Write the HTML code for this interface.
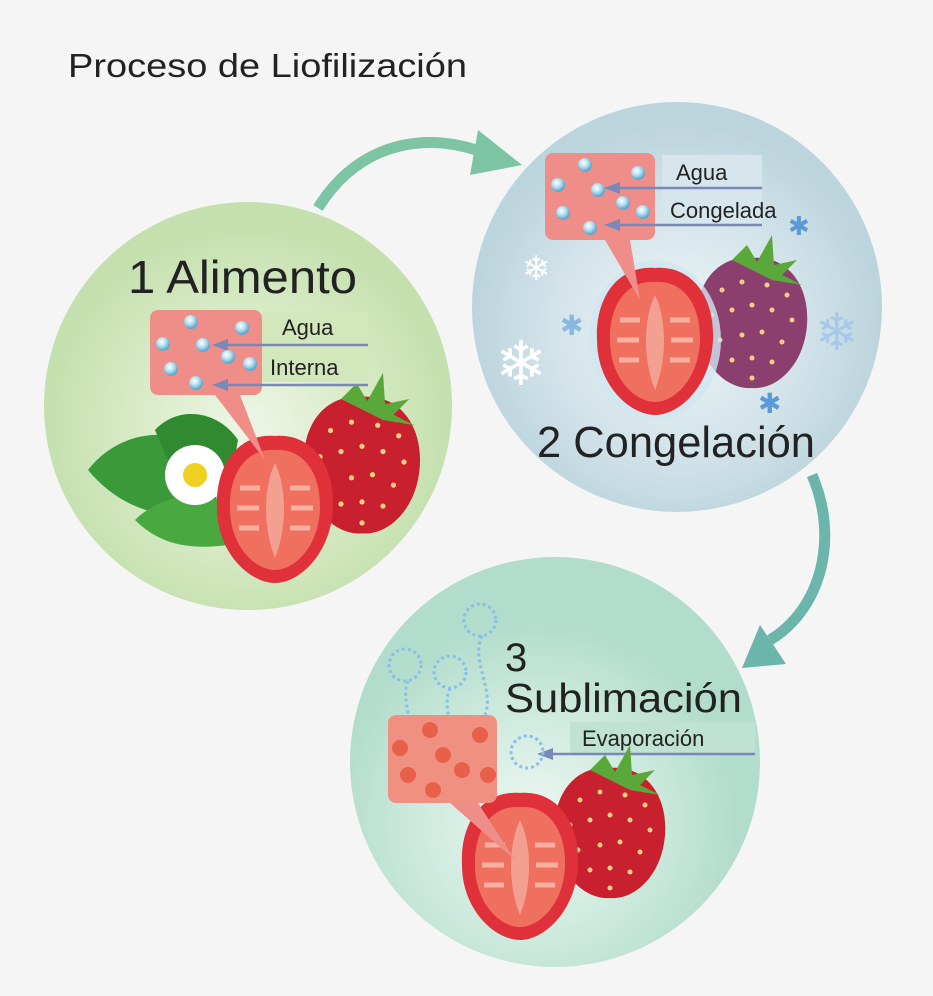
<!DOCTYPE html>
<html><head><meta charset="utf-8"><style>
html,body{margin:0;padding:0;background:#f5f5f5;}
svg{display:block;}
text{font-family:"Liberation Sans",sans-serif;fill:#222;}
</style></head><body>
<svg width="933" height="996" viewBox="0 0 933 996" xmlns="http://www.w3.org/2000/svg">
<defs>
<radialGradient id="g1" cx="50%" cy="55%" r="50%"><stop offset="0" stop-color="#eef6e6"/><stop offset="0.6" stop-color="#d6eac4"/><stop offset="1" stop-color="#c4e0ae"/></radialGradient>
<radialGradient id="g2" cx="50%" cy="55%" r="50%"><stop offset="0" stop-color="#eef5f7"/><stop offset="0.6" stop-color="#d3e4ea"/><stop offset="1" stop-color="#bcd4dc"/></radialGradient>
<radialGradient id="g3" cx="45%" cy="65%" r="50%"><stop offset="0" stop-color="#eef8f3"/><stop offset="0.6" stop-color="#cbe9dc"/><stop offset="1" stop-color="#b2dccb"/></radialGradient>
<radialGradient id="drop" cx="40%" cy="35%" r="60%"><stop offset="0" stop-color="#ffffff"/><stop offset="0.5" stop-color="#b8e0f0"/><stop offset="1" stop-color="#5aa8d0"/></radialGradient>
<g id="cut">
 <path d="M0,-72 C35,-75 60,-45 58,0 C56,45 25,75 0,75 C-25,75 -58,45 -58,0 C-60,-45 -35,-75 0,-72Z" fill="#e0303a"/>
 <path d="M0,-58 C28,-60 46,-35 45,0 C44,38 20,62 0,62 C-20,62 -45,38 -45,0 C-46,-35 -28,-60 0,-58Z" fill="#f07060"/>
 <path d="M0,-45 C12,-20 12,20 0,50 C-12,20 -12,-20 0,-45Z" fill="#f4a090"/>
 <path d="M-35,-20 h20 M-38,0 h22 M-36,20 h20 M15,-20 h20 M16,0 h22 M15,20 h20" stroke="#f8b0a0" stroke-width="5"/>
</g>
<g id="whole">
 <path d="M0,-62 C35,-65 58,-35 55,5 C52,45 25,70 0,68 C-25,70 -52,45 -55,5 C-58,-35 -35,-65 0,-62Z"/>
 <g fill="#f6d080">
  <circle cx="-30" cy="-30" r="2.5"/><circle cx="-10" cy="-38" r="2.5"/><circle cx="15" cy="-35" r="2.5"/><circle cx="35" cy="-25" r="2.5"/>
  <circle cx="-40" cy="-5" r="2.5"/><circle cx="-20" cy="-10" r="2.5"/><circle cx="0" cy="-15" r="2.5"/><circle cx="20" cy="-10" r="2.5"/><circle cx="40" cy="0" r="2.5"/>
  <circle cx="-32" cy="20" r="2.5"/><circle cx="-10" cy="15" r="2.5"/><circle cx="10" cy="12" r="2.5"/><circle cx="30" cy="22" r="2.5"/>
  <circle cx="-20" cy="40" r="2.5"/><circle cx="0" cy="38" r="2.5"/><circle cx="20" cy="42" r="2.5"/><circle cx="0" cy="58" r="2.5"/>
 </g>
 <path d="M-20,-60 L-5,-75 L5,-58 L20,-85 L22,-55 L45,-60 L30,-45 L50,-35 L20,-40 Z" fill="#5aa83a"/>
</g>
</defs>
<rect width="933" height="996" fill="#f5f5f5"/>
<text x="68" y="77" font-size="33" fill="#333" textLength="399" lengthAdjust="spacingAndGlyphs">Proceso de Liofilización</text>

<!-- arrows -->
<path d="M318,208 C360,140 430,130 490,155" fill="none" stroke="#7cc4a4" stroke-width="11"/>
<polygon points="478,130 522,165 470,175" fill="#7cc4a4"/>
<path d="M812,475 C840,540 820,610 770,640" fill="none" stroke="#6cb5aa" stroke-width="11"/>
<polygon points="760,625 786,664 742,668" fill="#6cb5aa"/>

<!-- circles -->
<circle cx="248" cy="406" r="204" fill="url(#g1)"/>
<circle cx="677" cy="307" r="205" fill="url(#g2)"/>
<circle cx="555" cy="762" r="205" fill="url(#g3)"/>

<!-- circle 1 -->
<text x="128" y="293" font-size="46" textLength="229" lengthAdjust="spacingAndGlyphs">1 Alimento</text>
<g fill="#3a9a3a">
 <path d="M88,470 C115,435 160,425 205,445 L218,505 C180,525 125,515 88,470Z"/>
 <path d="M155,430 C178,405 218,410 238,440 L232,472 L172,470Z" fill="#2f8a30"/>
 <path d="M135,520 C160,495 205,488 225,505 L228,545 C190,550 160,545 135,520Z" fill="#4aa840"/>
</g>
<circle cx="195" cy="475" r="30" fill="#fff"/><circle cx="195" cy="475" r="12" fill="#f0d020"/>
<use href="#whole" x="362" y="462" fill="#c8202e" transform="translate(362 462) scale(1.05) translate(-362 -462)"/>
<use href="#cut" x="275" y="508"/>
<polygon points="215,395 240,395 265,460" fill="#ef8e88"/>
<rect x="150" y="310" width="112" height="85" rx="8" fill="#ef8e88"/>
<rect x="262" y="312" width="106" height="70" fill="#d2e8bc"/>
<text x="282" y="335" font-size="22">Agua</text>
<text x="270" y="375" font-size="22">Interna</text>
<g stroke="#7a88b8" stroke-width="2.5"><line x1="220" y1="345" x2="368" y2="345"/><line x1="220" y1="385" x2="368" y2="385"/></g>
<g fill="#7a88b8"><polygon points="212,345 228,339 228,351"/><polygon points="212,385 228,379 228,391"/></g>
<g fill="url(#drop)"><circle cx="191" cy="322" r="7"/><circle cx="242" cy="328" r="7"/><circle cx="163" cy="344" r="7"/><circle cx="203" cy="345" r="7"/><circle cx="228" cy="357" r="7"/><circle cx="250" cy="364" r="7"/><circle cx="171" cy="369" r="7"/><circle cx="196" cy="383" r="7"/></g>

<!-- circle 2 -->
<text x="537" y="457" font-size="44" textLength="278" lengthAdjust="spacingAndGlyphs">2 Congelación</text>
<use href="#whole" x="752" y="320" fill="#8a3f6e"/>
<ellipse cx="655" cy="340" rx="66" ry="80" fill="#cfe6f0" opacity="0.8"/>
<use href="#cut" x="655" y="340"/>
<polygon points="605,240 630,240 640,300" fill="#ef8e88"/>
<rect x="545" y="153" width="110" height="87" rx="8" fill="#ef8e88"/>
<rect x="662" y="155" width="100" height="70" fill="#d6e6ec"/>
<text x="676" y="180" font-size="22">Agua</text>
<text x="670" y="218" font-size="22">Congelada</text>
<g stroke="#7a88b8" stroke-width="2.5"><line x1="612" y1="188" x2="762" y2="188"/><line x1="612" y1="225" x2="762" y2="225"/></g>
<g fill="#7a88b8"><polygon points="604,188 620,182 620,194"/><polygon points="604,225 620,219 620,231"/></g>
<g fill="url(#drop)"><circle cx="585" cy="165" r="7"/><circle cx="638" cy="173" r="7"/><circle cx="558" cy="185" r="7"/><circle cx="598" cy="190" r="7"/><circle cx="623" cy="203" r="7"/><circle cx="643" cy="212" r="7"/><circle cx="563" cy="213" r="7"/><circle cx="590" cy="228" r="7"/></g>
<g font-family="DejaVu Sans" font-size="46">
<text x="495" y="385" font-size="62" style="fill:#fff">❄</text>
<text x="815" y="350" style="fill:#a8c8ea" font-size="52">❄</text>
<text x="522" y="280" style="fill:#fff" font-size="34">❄</text>
<text x="560" y="335" style="fill:#8ab8e0" font-size="28">✱</text>
<text x="758" y="413" style="fill:#5a9ad8" font-size="28">✱</text>
<text x="788" y="235" style="fill:#5a9ad8" font-size="26">✱</text>
</g>

<!-- circle 3 -->
<text x="505" y="671" font-size="40">3</text>
<text x="505" y="712" font-size="41" textLength="237" lengthAdjust="spacingAndGlyphs">Sublimación</text>
<rect x="570" y="722" width="185" height="32" fill="#bfe2d2"/>
<text x="582" y="746" font-size="22">Evaporación</text>
<line x1="545" y1="754" x2="755" y2="754" stroke="#7a88b8" stroke-width="2.5"/>
<polygon points="537,754 553,748 553,760" fill="#7a88b8"/>
<g fill="none" stroke="#88bfe8" stroke-width="3" stroke-dasharray="3 3">
<circle cx="480" cy="620" r="16"/><circle cx="405" cy="665" r="16"/><circle cx="450" cy="672" r="16"/><circle cx="527" cy="752" r="16"/>
<path d="M482,636 C470,660 495,690 485,715"/><path d="M450,688 C440,710 460,740 455,770"/><path d="M408,681 C400,700 415,720 410,760"/>
</g>
<use href="#whole" x="610" y="830" fill="#c8202e"/>
<use href="#cut" x="520" y="865"/>
<polygon points="450,803 478,803 515,860" fill="#ef8e88"/>
<rect x="388" y="715" width="109" height="88" rx="8" fill="#f09080"/>
<g fill="#e8604a"><circle cx="430" cy="730" r="8"/><circle cx="480" cy="735" r="8"/><circle cx="400" cy="748" r="8"/><circle cx="443" cy="755" r="8"/><circle cx="462" cy="770" r="8"/><circle cx="488" cy="775" r="8"/><circle cx="408" cy="775" r="8"/><circle cx="433" cy="790" r="8"/></g>
</svg>
</body></html>
